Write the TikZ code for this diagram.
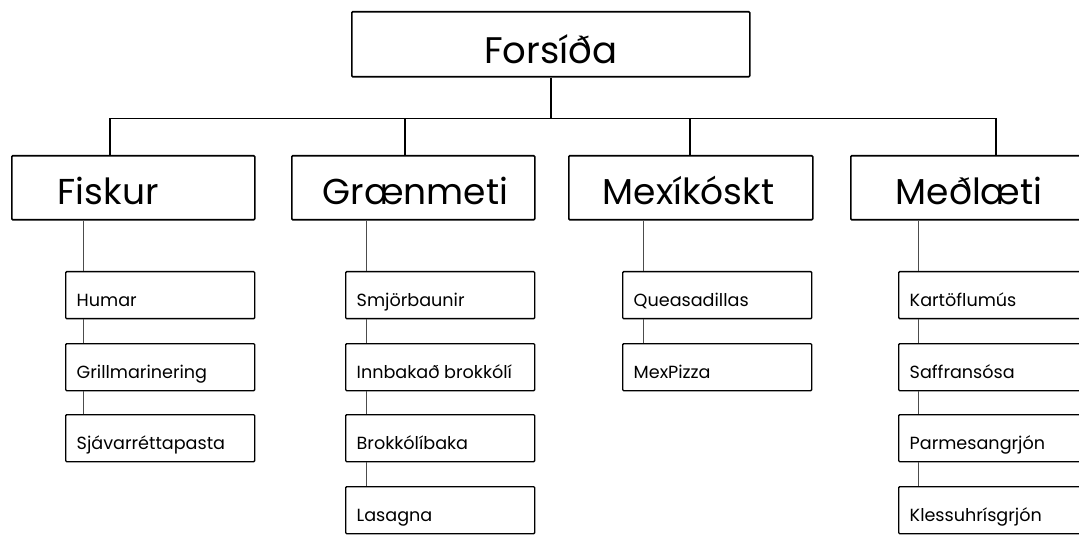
\documentclass[tikz,border=0pt]{standalone}
\usepackage{fontspec}
\setmainfont{Poppins}
\usetikzlibrary{calc}

\tikzset{
  topbox/.style={draw, line width=1.6pt, rounded corners=1pt, anchor=north west,
    minimum height=65pt, inner ysep=0pt, inner xsep=0pt, text width=398pt,
    align=center, text height=39pt, text depth=0pt, font=\fontsize{37}{40}\selectfont},
  catbox/.style args={#1/#2}{draw, line width=1.6pt, rounded corners=1pt, anchor=north west,
    minimum height=64pt, inner ysep=0pt, inner xsep=#1, text width=#2,
    align=flush left, text height=34pt, text depth=0pt, font=\fontsize{36}{40}\selectfont},
  itembox/.style={draw, line width=1.4pt, rounded corners=1pt, anchor=north west,
    minimum height=47pt, inner ysep=0pt, inner xsep=11pt, text width=167pt,
    align=flush left, text height=23pt, text depth=0pt, font=\fontsize{17.6}{20}\selectfont},
  link/.style={line width=1.6pt},
  sublink/.style={line width=1pt, gray!60!black},
}

\begin{document}
\begin{tikzpicture}[x=1pt,y=-1pt]
    \useasboundingbox (0,0) rectangle (1079,537);
    \clip (0,0) rectangle (1079,537);

    \node[topbox] (top) at (351,11) {Forsíða};

    \node[catbox={46pt/151pt}] (fiskur) at (11,155) {Fiskur};
    \node[catbox={31pt/181pt}] (graen) at (291,155) {Grænmeti};
    \node[catbox={34pt/176pt}] (mex) at (568,155) {Mexíkóskt};
    \node[catbox={45pt/153pt}] (medl) at (850,155) {Meðlæti};

    % Fiskur
    \node[itembox] (humar) at (65,271) {Humar};
    \node[itembox] (grill) at (65,343) {Grillmarinering};
    \node[itembox] (sjavar) at (65,414) {Sjávarréttapasta};
    % Grænmeti
    \node[itembox] (smjor) at (345,271) {Smjörbaunir};
    \node[itembox] (innbak) at (345,343) {Innbakað~brokkólí};
    \node[itembox] (brokk) at (345,414) {Brokkólíbaka};
    \node[itembox] (lasagna) at (345,486) {Lasagna};
    % Mexíkóskt
    \node[itembox] (ques) at (622,271) {Queasadillas};
    \node[itembox] (mexpizza) at (622,343) {MexPizza};
    % Meðlæti
    \node[itembox] (kart) at (898,271) {Kartöflumús};
    \node[itembox] (saffr) at (898,343) {Saffransósa};
    \node[itembox] (parm) at (898,414) {Parmesangrjón};
    \node[itembox] (kless) at (898,486) {Klessuhrísgrjón};

    \coordinate (bar) at ($(top.south)+(0,41)$);
    \draw[link] (top.south) -- (bar);
    \foreach \cat/\dx in {fiskur/99, graen/114, mex/122, medl/146}
        \draw[link] ($(\cat.north west)+(\dx,0)$) |- (bar);

    \foreach \a/\b/\dx in {fiskur/humar/18, humar/grill/18, grill/sjavar/18,
        graen/smjor/21, smjor/innbak/21, innbak/brokk/21, brokk/lasagna/21,
        mex/ques/21, ques/mexpizza/21,
        medl/kart/20, kart/saffr/20, saffr/parm/20, parm/kless/20}
    {
        \coordinate (t) at ($(\b.north west)+(\dx,0)$);
        \draw[sublink] (t) -- (t |- \a.south);
    }
\end{tikzpicture}
\end{document}
